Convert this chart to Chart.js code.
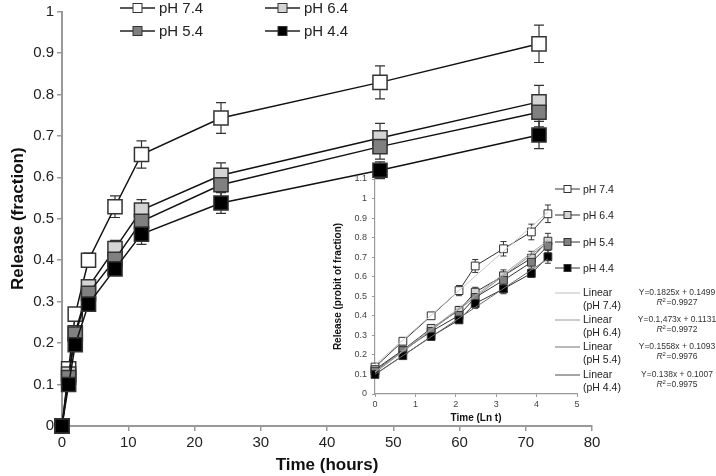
<!DOCTYPE html>
<html lang="en">
<head>
  <meta charset="UTF-8">
  <title>Release (fraction) vs time</title>
  <script src="https://cdn.jsdelivr.net/npm/chart.js"></script>
  <style>
    body { margin: 0; background: #fff; }
    #wrap { position: relative; width: 716px; height: 476px; }
    #mainChart { position: absolute; left: 0; top: 0; }
    #insetChart { position: absolute; left: 330px; top: 165px; }
  </style>
</head>
<body>
  <div id="wrap">
    <canvas id="mainChart" width="716" height="476"></canvas>
    <canvas id="insetChart" width="386" height="260"></canvas>
  </div>

  <script>
    // Dados
    const hours = [0, 1, 2, 4, 8, 12, 24, 48, 72];
    const lnHours = [0, 0.69, 1.39, 2.08, 2.48, 3.18, 3.87, 4.28];
    const seriesNames = ['pH 7.4', 'pH 6.4', 'pH 5.4', 'pH 4.4'];

    const ph74 = [0, 0.138, 0.27, 0.40, 0.529, 0.655, 0.743, 0.829, 0.922];
    const ph64 = [0, 0.125, 0.225, 0.336, 0.428, 0.521, 0.605, 0.695, 0.782];
    const ph54 = [0, 0.117, 0.222, 0.32, 0.402, 0.494, 0.582, 0.674, 0.757];
    const ph44 = [0, 0.10, 0.196, 0.294, 0.379, 0.463, 0.538, 0.617, 0.702];

    const err74 = [0, 0.01, 0.01, 0.017, 0.026, 0.033, 0.037, 0.04, 0.045];
    const err64 = [0, 0.01, 0.01, 0.01, 0.02, 0.025, 0.03, 0.035, 0.04];
    const err54 = [0, 0.01, 0.01, 0.01, 0.02, 0.025, 0.03, 0.03, 0.035];
    const err44 = [0, 0.01, 0.01, 0.01, 0.015, 0.025, 0.025, 0.02, 0.033];

    const trendX = [0, 4.28];
    const slopes = [0.1825, 0.1573, 0.1558, 0.138];
    const intercepts = [0.1499, 0.1131, 0.1093, 0.1007];
    const eqLabels = ['Y=0.1825x + 0.1499', 'Y=0.1,473x + 0.1131', 'Y=0.1558x + 0.1093', 'Y=0.138x + 0.1007'];
    const r2Labels = ['0.9927', '0.9972', '0.9976', '0.9975'];

    const values = [ph74, ph64, ph54, ph44];
    const errors = [err74, err64, err54, err44];
    const fills = ['#ffffff', '#d4d4d4', '#808080', '#000000'];
    const trendColors = ['#c8c8c8', '#a8a8a8', '#8a8a8a', '#6a6a6a'];
    const FONT = "'Liberation Sans', Arial, sans-serif";

    // rótulos sem zeros sobrando: 1, 0.9, 0.8 ...
    const plainNum = v => String(Number(v.toFixed(2)));

    // barras de erro desenhadas pelas escalas do gráfico
    const errorBarPlugin = {
      id: 'errorBars',
      beforeDatasetsDraw(chart, args, opts) {
        const ctx = chart.ctx;
        const yScale = chart.scales.y;
        ctx.save();
        ctx.strokeStyle = '#333';
        ctx.lineWidth = opts.lineWidth;
        opts.sets.forEach((errs, i) => {
          const meta = chart.getDatasetMeta(i);
          meta.data.forEach((pt, j) => {
            const v = chart.data.datasets[i].data[j].y;
            const e = errs[j];
            if (!e) return;
            const top = yScale.getPixelForValue(v + e);
            const bot = yScale.getPixelForValue(v - e);
            ctx.beginPath();
            ctx.moveTo(pt.x, top); ctx.lineTo(pt.x, bot);
            ctx.moveTo(pt.x - opts.cap, top); ctx.lineTo(pt.x + opts.cap, top);
            ctx.moveTo(pt.x - opts.cap, bot); ctx.lineTo(pt.x + opts.cap, bot);
            ctx.stroke();
          });
        });
        ctx.restore();
      }
    };

    function drawKey(ctx, x, y, len, box, fill, lineColor, lineWidth) {
      ctx.save();
      ctx.strokeStyle = lineColor;
      ctx.lineWidth = lineWidth;
      ctx.beginPath();
      ctx.moveTo(x, y); ctx.lineTo(x + len, y);
      ctx.stroke();
      if (box) {
        ctx.fillStyle = fill;
        ctx.strokeStyle = '#333';
        ctx.lineWidth = 1;
        ctx.fillRect(x + len / 2 - box / 2, y - box / 2, box, box);
        ctx.strokeRect(x + len / 2 - box / 2, y - box / 2, box, box);
      }
      ctx.restore();
    }

    // legenda do gráfico principal (no topo)
    const mainLegend = {
      id: 'mainLegend',
      afterDraw(chart) {
        const ctx = chart.ctx;
        const spots = [[120, 8], [265, 8], [120, 31], [265, 31]];
        ctx.save();
        ctx.font = '15px ' + FONT;
        ctx.fillStyle = '#222';
        ctx.textBaseline = 'middle';
        seriesNames.forEach((name, k) => {
          const [x, y] = spots[k];
          drawKey(ctx, x, y, 35, 9, fills[k], '#222', 1.5);
          ctx.fillText(name, x + 39, y + 1);
        });
        ctx.restore();
      }
    };

    // legenda e equações do gráfico menor
    const insetLegend = {
      id: 'insetLegend',
      afterDraw(chart) {
        const ctx = chart.ctx;
        const x = 225;
        ctx.save();
        ctx.font = '10.5px ' + FONT;
        ctx.fillStyle = '#222';
        ctx.textBaseline = 'middle';
        const rowsA = [24, 50, 77, 103];
        seriesNames.forEach((name, i) => {
          drawKey(ctx, x, rowsA[i], 25, 7, fills[i], '#333', 1);
          ctx.fillText(name, x + 28, rowsA[i] + 1);
        });
        const rowsB = [128, 155, 182, 210];
        seriesNames.forEach((name, i) => {
          drawKey(ctx, x, rowsB[i], 25, 0, null, trendColors[i], 1.2);
          ctx.fillStyle = '#222';
          ctx.fillText('Linear', x + 28, rowsB[i]);
          ctx.fillText('(' + name + ')', x + 28, rowsB[i] + 13);
        });
        ctx.fillStyle = '#333';
        eqLabels.forEach((txt, i) => {
          ctx.textAlign = 'center';
          ctx.font = '8.5px ' + FONT;
          ctx.fillText(txt, 347, rowsB[i]);
          // R² em itálico, centrado abaixo
          ctx.font = 'italic 8.5px ' + FONT;
          const wR = ctx.measureText('R').width;
          ctx.font = '8.5px ' + FONT;
          const wRest = ctx.measureText('=' + r2Labels[i]).width;
          let px = 347 - (wR + 4 + wRest) / 2;
          const py = rowsB[i] + 10;
          ctx.textAlign = 'left';
          ctx.font = 'italic 8.5px ' + FONT;
          ctx.fillText('R', px, py);
          px += wR;
          ctx.font = '6px ' + FONT;
          ctx.fillText('2', px, py - 3);
          px += 4;
          ctx.font = '8.5px ' + FONT;
          ctx.fillText('=' + r2Labels[i], px, py);
        });
        ctx.restore();
      }
    };

    // Gráfico principal (pH 4.4 desenhado por cima)
    new Chart(document.getElementById('mainChart'), {
      type: 'line',
      data: {
        datasets: seriesNames.map((name, i) => ({
          label: name,
          data: hours.map((h, j) => ({ x: h, y: values[i][j] })),
          borderColor: '#111',
          borderWidth: 1.5,
          pointStyle: 'rect',
          pointRadius: 10,
          pointBackgroundColor: fills[i],
          pointBorderColor: '#333',
          pointBorderWidth: 1.5,
          tension: 0,
          clip: false,
          order: seriesNames.length - i
        }))
      },
      options: {
        responsive: false,
        animation: false,
        layout: { padding: { top: 6, right: 124, left: 0, bottom: 0 } },
        plugins: {
          legend: { display: false },
          tooltip: { enabled: false },
          errorBars: { sets: errors, cap: 5, lineWidth: 1.2 }
        },
        scales: {
          x: {
            type: 'linear', min: 0, max: 80,
            afterFit: s => { s.height = 50; s.paddingLeft = 0; s.paddingRight = 0; },
            ticks: { stepSize: 10, padding: 3, color: '#222', font: { family: FONT, size: 15 }, maxRotation: 0 },
            grid: { drawOnChartArea: false, drawTicks: true, tickLength: 5, color: '#999', lineWidth: 1.5 },
            border: { display: true, color: '#999', width: 2 },
            title: { display: true, text: 'Time (hours)', color: '#111', padding: { top: 0, bottom: 0 },
                     font: { family: FONT, size: 17, weight: 'bold' } }
          },
          y: {
            min: 0, max: 1,
            afterFit: s => { s.width = 62; s.paddingTop = 0; s.paddingBottom = 0; },
            ticks: { stepSize: 0.1, padding: 3, color: '#222', font: { family: FONT, size: 15 }, callback: plainNum },
            grid: { drawOnChartArea: false, drawTicks: true, tickLength: 5, color: '#999', lineWidth: 1.5 },
            border: { display: true, color: '#999', width: 2 },
            title: { display: true, text: 'Release (fraction)', color: '#111', padding: { top: 8, bottom: 0 },
                     font: { family: FONT, size: 17, weight: 'bold' } }
          }
        }
      },
      plugins: [errorBarPlugin, mainLegend]
    });

    // Gráfico menor (probit x ln t)
    const insetSets = seriesNames.map((name, i) => ({
      label: name,
      data: lnHours.map((t, j) => ({ x: t, y: values[i][j + 1] })),
      borderColor: '#333',
      borderWidth: 1,
      pointStyle: 'rect',
      pointRadius: 5.5,
      pointBackgroundColor: fills[i],
      pointBorderColor: '#333',
      pointBorderWidth: 1,
      tension: 0,
      clip: false,
      order: 1 + seriesNames.length - i
    }));
    const trendSets = seriesNames.map((name, i) => ({
      label: 'Linear (' + name + ')',
      data: trendX.map(t => ({ x: t, y: slopes[i] * t + intercepts[i] })),
      borderColor: trendColors[i],
      borderWidth: 1,
      pointRadius: 0,
      tension: 0,
      order: 0
    }));

    new Chart(document.getElementById('insetChart'), {
      type: 'line',
      data: { datasets: insetSets.concat(trendSets) },
      options: {
        responsive: false,
        animation: false,
        layout: { padding: { top: 14, right: 139, left: 0, bottom: 0 } },
        plugins: {
          legend: { display: false },
          tooltip: { enabled: false },
          errorBars: { sets: errors.map(e => e.slice(1)), cap: 3, lineWidth: 1 }
        },
        scales: {
          x: {
            type: 'linear', min: 0, max: 5,
            afterFit: s => { s.height = 31; s.paddingLeft = 0; s.paddingRight = 0; },
            ticks: { stepSize: 1, padding: 2, color: '#444', font: { family: FONT, size: 9 }, maxRotation: 0 },
            grid: { drawOnChartArea: false, drawTicks: true, tickLength: 3, color: '#999', lineWidth: 1 },
            border: { display: true, color: '#999', width: 1.2 },
            title: { display: true, text: 'Time (Ln t)', color: '#111', padding: { top: 0, bottom: 1 },
                     font: { family: FONT, size: 10, weight: 'bold' } }
          },
          y: {
            min: 0, max: 1.1,
            afterFit: s => { s.width = 45; s.paddingTop = 0; s.paddingBottom = 0; },
            ticks: { stepSize: 0.1, padding: 5, color: '#444', font: { family: FONT, size: 9 }, callback: plainNum },
            grid: { drawOnChartArea: false, drawTicks: true, tickLength: 3, color: '#999', lineWidth: 1 },
            border: { display: true, color: '#999', width: 1.2 },
            title: { display: true, text: 'Release (probit of fraction)', color: '#111', padding: { top: 2, bottom: 0 },
                     font: { family: FONT, size: 10, weight: 'bold' } }
          }
        }
      },
      plugins: [errorBarPlugin, insetLegend]
    });
  </script>
</body>
</html>
